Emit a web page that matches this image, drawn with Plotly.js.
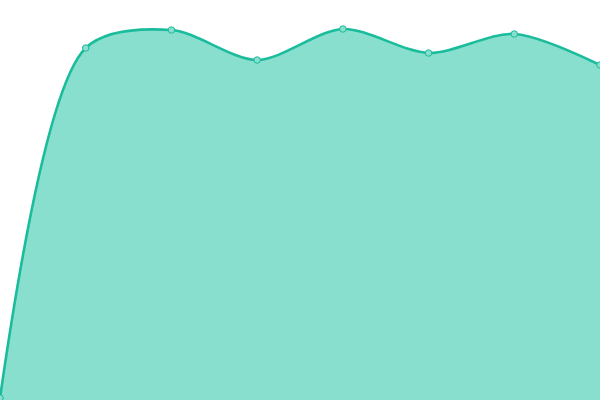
<!DOCTYPE html>
<html>
<head>
<meta charset="utf-8">
<script src="https://cdn.plot.ly/plotly-3.0.1.min.js"></script>
<style>
  html, body { margin: 0; padding: 0; background: #fff; }
  #chart { width: 600px; height: 400px; }
</style>
</head>
<body>
<div id="chart"></div>
<script>
  var xs = [0, 1, 2, 3, 4, 5, 6, 7];
  var values = [0.5, 88, 92.5, 85, 92.75, 86.75, 91.5, 83.75];

  function drawArea() {
    var area = {
      x: xs,
      y: values,
      type: "scatter",
      mode: "lines+markers",
      fill: "tozeroy",
      fillcolor: "#88dfce",
      line: { color: "#1abc9c", width: 2.6, shape: "spline", smoothing: 0.85 },
      marker: {
        size: 6.5,
        color: "#88dfce",
        line: { color: "#1abc9c", width: 1 }
      },
      hoverinfo: "none"
    };
    var layout = {
      width: 600,
      height: 400,
      margin: { l: 0, r: 0, t: 0, b: 0 },
      showlegend: false,
      paper_bgcolor: "#fff",
      plot_bgcolor: "#fff",
      xaxis: { range: [0, 7], visible: false, fixedrange: true },
      yaxis: { range: [0, 100], visible: false, fixedrange: true }
    };
    Plotly.newPlot("chart", [area], layout, { displayModeBar: false, staticPlot: true });
  }
  drawArea();
</script>
</body>
</html>
